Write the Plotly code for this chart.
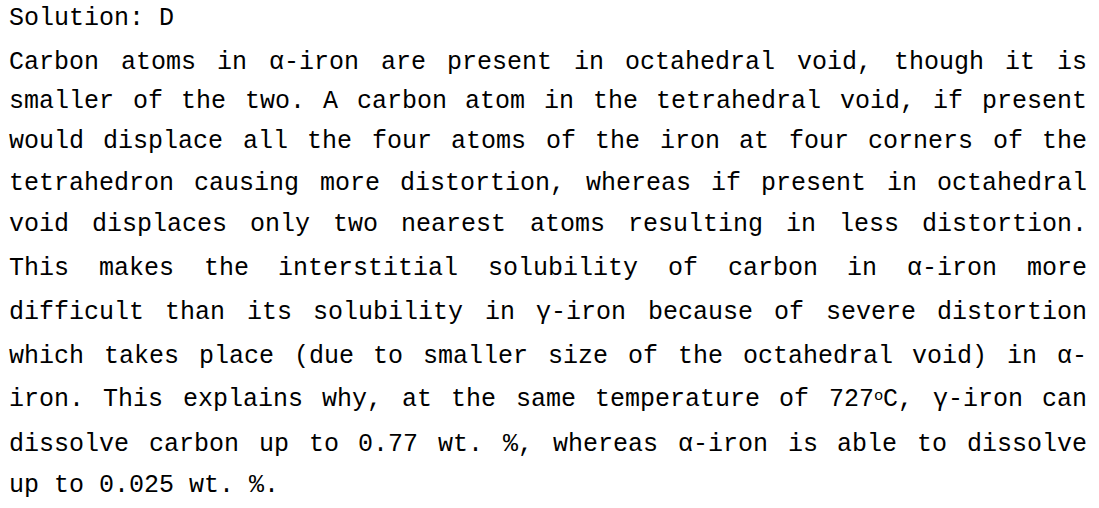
import re
import plotly.graph_objects as go

W, H = 1099, 508
LEFT, RIGHT = 8, 1086
FONT_SIZE = 25
CHAR = 15.0  # monospace advance (0.6 em)
SUP_SIZE = 15.5
SUP_RAISE = 5.5

title_line = "Solution: D"
body_lines = [
    "Carbon atoms in α-iron are present in octahedral void, though it is",
    "smaller of the two. A carbon atom in the tetrahedral void, if present",
    "would displace all the four atoms of the iron at four corners of the",
    "tetrahedron causing more distortion, whereas if present in octahedral",
    "void displaces only two nearest atoms resulting in less distortion.",
    "This makes the interstitial solubility of carbon in α-iron more",
    "difficult than its solubility in γ-iron because of severe distortion",
    "which takes place (due to smaller size of the octahedral void) in α-",
    "iron. This explains why, at the same temperature of 727<sup>o</sup>C, γ-iron can",
    "dissolve carbon up to 0.77 wt. %, whereas α-iron is able to dissolve",
]
last_line = "up to 0.025 wt. %."

baselines = [24, 68.3, 107.3, 147.7, 189.3, 230, 274.3, 318.3, 362, 405.3, 450.5, 490.7]

FAMILY = "Liberation Mono, Courier New, monospace"
COLOR = "#000000"
OFF_RATIO = 5.7 / 25.0  # box-middle above baseline, per px of font size


def pieces(w):
    out = []
    for part in re.split(r"(<sup>.*?</sup>)", w):
        if not part:
            continue
        if part.startswith("<sup>"):
            out.append((part[5:-6], True))
        else:
            out.append((part, False))
    return out


def word_width(w):
    total = 0.0
    for txt, sup in pieces(w):
        total += len(txt) * (SUP_SIZE * 0.6 if sup else CHAR)
    return total


annotations = []


def add(text, px, baseline, size):
    annotations.append(dict(
        text=text, x=px / W, y=1 - (baseline - OFF_RATIO * size) / H,
        xref="paper", yref="paper", xanchor="left", yanchor="middle",
        showarrow=False, borderpad=0,
        font=dict(family=FAMILY, size=size, color=COLOR),
    ))


def add_word(w, x, baseline):
    for txt, sup in pieces(w):
        if sup:
            add(txt, x, baseline - SUP_RAISE, SUP_SIZE)
            x += len(txt) * SUP_SIZE * 0.6
        else:
            add(txt, x, baseline, FONT_SIZE)
            x += len(txt) * CHAR


def plain_line(line, baseline):
    x = LEFT
    for w in line.split(" "):
        add_word(w, x, baseline)
        x += word_width(w) + CHAR


def justified_line(line, baseline):
    words = line.split(" ")
    widths = [word_width(w) for w in words]
    gap = (RIGHT - LEFT - sum(widths)) / (len(words) - 1)
    x = LEFT
    for w, wd in zip(words, widths):
        add_word(w, x, baseline)
        x += wd + gap


plain_line(title_line, baselines[0])
for i, ln in enumerate(body_lines):
    justified_line(ln, baselines[i + 1])
plain_line(last_line, baselines[-1])

fig = go.Figure()
fig.update_layout(
    width=W, height=H, autosize=False,
    margin=dict(l=0, r=0, t=0, b=0),
    paper_bgcolor="white", plot_bgcolor="white",
    xaxis=dict(visible=False, range=[0, 1]),
    yaxis=dict(visible=False, range=[0, 1]),
    annotations=annotations,
    showlegend=False,
)
fig.write_html("out.html", config={"displayModeBar": False},
               post_script="document.body.style.margin='0';")
